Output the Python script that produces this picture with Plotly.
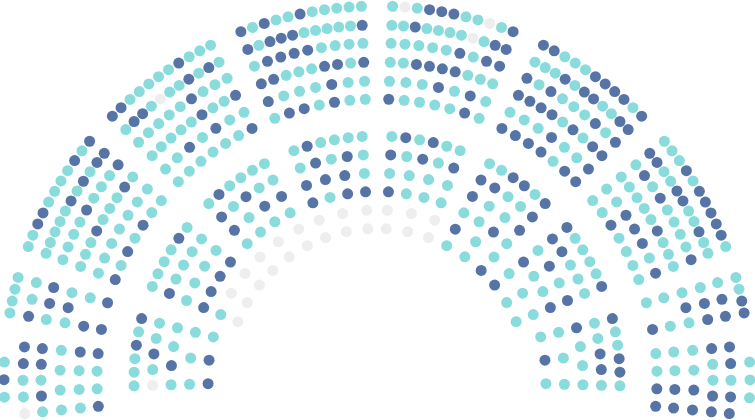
import math
import plotly.graph_objects as go

# ---------------- seat data (t = teal, d = dark blue, g = grey/empty) ----------------
# each block lists its rows from the outermost row inwards;
# seats inside a row are listed clockwise (left side bottom->top, top left->right, right side top->bottom)
outer_1 = ["tdt", "gttdd", "tdtdd", "tttt", "tttd", "dttd"]
outer_2 = ["tttt", "dtt", "tdd", "tdt", "dt", "dd"]
outer_3 = ["ttddttttdtd", "tttttdtdtdd", "ttttdtttd", "tttdtttdt", "ttttttt", "dtdtdtt"]
outer_4 = ["ddtttttdttt", "tddtgttdtdt", "tttttdttt", "tttttdttd", "ttdtdtt", "ttttttd"]
outer_5 = ["dtdttdttttt", "dtdddtttttd", "tddddtttt", "ddtttddtd", "dtttdtt", "tddtdtt"]
outer_6 = ["tgtdddttgtd", "ttdttttgtdd", "tttttdtdd", "ttddddttt", "tttdtdt", "dttttdt"]
outer_7 = ["ddtttddddtd", "tttdtddttdd", "dtdtttdtd", "ddddtdtdd", "tttdttd", "ddddtdd"]
outer_8 = ["tttdtdddddt", "ddttddttdtt", "tdtdttttd", "tttttdttt", "ttdddtd", "ttdtttt"]
outer_9 = ["ttdd", "tdd", "tdd", "tdt", "tt", "td"]
outer_10 = ["ttt", "ddtdd", "dttdd", "ttdd", "ttdd", "ttdd"]

inner_1 = ["tttdtd", "gtdtt", "tdtt", "ttt", "ddt"]
inner_2 = ["ttttdt", "dtttt", "tttt", "dddd", "tgg", "ggg"]
inner_3 = ["tdtttt", "dtdtt", "dtdd", "tttt", "ggg", "ggg"]
inner_4 = ["tdtttt", "tdtdt", "dddt", "dtdd", "ggg", "ggg"]
inner_5 = ["tdtdtt", "dtdtd", "tttt", "dttt", "ggg", "ggg"]
inner_6 = ["ttddtd", "ddttd", "dttd", "ttdt", "dtt", "ttd"]
inner_7 = ["dttttd", "ddttt", "tdtd", "dttd", "ttt", "dtt"]
inner_8 = ["dttddt", "ttddt", "dttt", "ttt", "tdt"]

# ---------------- layout of the seating plan ----------------
CX, CY = 377, 379
OUTER_RADII = [373, 354, 336, 317, 298, 280]
INNER_RADII = [243, 224.5, 206, 187.5, 169, 150.5]

# angular span of every block, degrees (0 = left, 90 = top, 180 = right)
outer_blocks = [
    (outer_1, (-5.6, 5.2)), (outer_2, (10.2, 15.8)), (outer_3, (20.8, 39.6)),
    (outer_4, (44.8, 63.5)), (outer_5, (68.6, 87.6)), (outer_6, (92.4, 111.4)),
    (outer_7, (116.5, 135.2)), (outer_8, (140.4, 159.2)), (outer_9, (164.2, 169.8)),
    (outer_10, (174.8, 185.6)),
]
inner_blocks = [
    (inner_1, (-1.6, 14.4)), (inner_2, (22.4, 38.6)), (inner_3, (46.2, 62.4)),
    (inner_4, (70.0, 86.5)), (inner_5, (93.5, 110.0)), (inner_6, (117.6, 133.8)),
    (inner_7, (141.4, 157.6)), (inner_8, (165.6, 181.6)),
]
# rows whose seats do not fill the whole block width
row_span_override = {("outer", 0, 0): (-2.8, 2.6), ("outer", 9, 0): (177.4, 182.9)}

COLORS = {"d": "#5674A6", "t": "#8ADCDC", "g": "#EEEEEE"}
NAMES = {"d": "Taken", "t": "Available", "g": "Empty"}

pts = {k: ([], []) for k in COLORS}


def place(blocks, radii, ring):
    for bi, (rows, span) in enumerate(blocks):
        for ri, row in enumerate(rows):
            a0, a1 = row_span_override.get((ring, bi, ri), span)
            n = len(row)
            r = radii[ri]
            for k, c in enumerate(row):
                th = math.radians((a0 + a1) / 2 if n == 1 else a0 + (a1 - a0) * k / (n - 1))
                pts[c][0].append(CX - r * math.cos(th))
                pts[c][1].append(CY - r * math.sin(th))


place(outer_blocks, OUTER_RADII, "outer")
place(inner_blocks, INNER_RADII, "inner")

fig = go.Figure()
for key in ["g", "t", "d"]:
    xs, ys = pts[key]
    fig.add_trace(go.Scatter(
        x=xs, y=ys, mode="markers", name=NAMES[key],
        marker=dict(size=11, color=COLORS[key], line=dict(width=0)),
        hoverinfo="skip",
    ))

fig.update_layout(
    width=755, height=420,
    margin=dict(l=0, r=0, t=0, b=0),
    paper_bgcolor="white", plot_bgcolor="white",
    showlegend=False,
    xaxis=dict(range=[0, 755], visible=False, fixedrange=True),
    yaxis=dict(range=[420, 0], visible=False, fixedrange=True),
)
fig.write_html(
    "out.html",
    config={"displayModeBar": False},
    post_script="document.body.style.margin='0';document.body.style.overflow='hidden';",
)
